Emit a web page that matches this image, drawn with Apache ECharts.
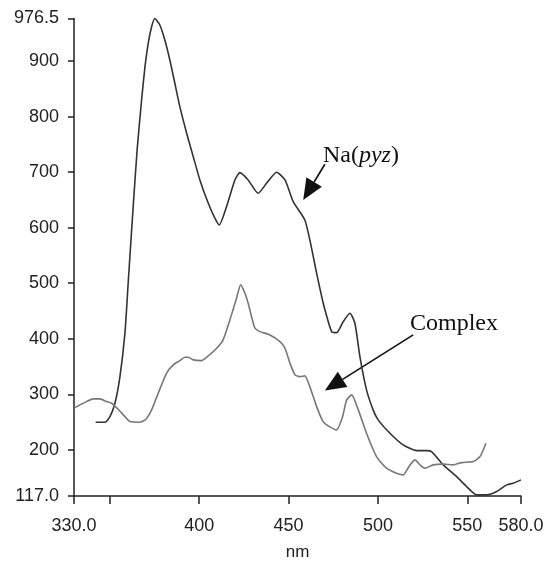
<!DOCTYPE html>
<html>
<head>
<meta charset="utf-8">
<script src="https://cdn.jsdelivr.net/npm/echarts@6/dist/echarts.min.js"></script>
<style>
    html, body { margin: 0; padding: 0; background: #fff; }
    #chart { width: 547px; height: 564px; }
</style>
</head>
<body>
<div id="chart"></div>
<script>
// Na(pyz) curve, wavelength (nm) and intensity
var naWave = [342.1, 347.3, 350.1, 352.9, 355.7, 358.5, 360.3, 363.1, 365.3, 367.8, 369.7, 371.5,
    373.4, 375.2, 378.0, 380.8, 383.6, 386.4, 389.2, 393.0, 396.7, 400.4, 405.1, 408.8, 411.2,
    415.3, 420.0, 422.8, 427.4, 433.0, 437.7, 443.3, 448.0, 452.6, 459.1, 461.9, 465.7, 469.4,
    474.1, 476.9, 480.6, 484.3, 487.1, 489.9, 493.6, 497.3, 500.1, 506.7, 514.1, 521.6, 527.2,
    530.0, 536.5, 544.0, 549.6, 555.2, 560.8, 566.4, 572.0, 575.6, 580.0];
var naValue = [249.8, 249.8, 259.9, 284, 331.9, 410.5, 500.5, 637.8, 739.9, 829.8, 889.8, 931.9,
    961.7, 976.5, 964.8, 937.8, 901.8, 859.9, 817.8, 769.9, 727.8, 685.9, 643.9, 617, 604.9,
    637.8, 685.9, 699, 685.9, 661.9, 679.9, 699.7, 685.9, 646.8, 613.9, 577.9, 518, 464,
    412.9, 411.1, 430.9, 446, 428, 367.9, 308, 272, 254, 230, 209, 198.7, 198.7,
    196.9, 173, 151.9, 134, 119, 119, 125, 137, 140, 146];

// Complex curve
var cxWave = [330.0, 333.3, 337.0, 340.7, 344.5, 348.2, 351.0, 354.7, 358.5, 361.3, 366.9, 370.2,
    373.4, 377.1, 381.8, 385.5, 389.2, 392.0, 393.9, 396.7, 401.4, 405.1, 409.8, 413.4, 417.2,
    420.9, 423.2, 425.6, 427.4, 429.3, 431.2, 434.0, 439.6, 445.2, 448.0, 450.8, 453.6, 456.4,
    459.1, 461.9, 465.7, 469.4, 473.1, 476.8, 480.1, 482.5, 485.3, 489.0, 493.6, 499.2, 504.8,
    510.4, 514.1, 517.9, 520.7, 523.5, 526.3, 530.9, 536.5, 542.1, 546.8, 553.3, 557.1, 560.4];
var cxValue = [275, 281, 286.9, 291.8, 291.8, 286.9, 284, 273.2, 259.9, 250.9, 249.8, 255.2,
    272, 302, 338, 353, 360.7, 366.8, 366.8, 362, 360.7, 369.2, 383, 398, 434,
    473, 497, 482, 464, 439.9, 419, 412.9, 406.9, 394.9, 383, 356, 335, 331.9,
    333.2, 313.9, 277.9, 250.4, 241.4, 236, 258.5, 290, 299, 272, 230, 187.9, 167,
    158, 155, 173, 182, 173, 167, 173, 174.3, 173, 177.1, 179, 188, 212];

var xTicks = [330, 350, 400, 450, 500, 550, 580];
var xLabels = [330, 400, 450, 500, 550, 580];
var yTicks = [117, 200, 300, 400, 500, 600, 700, 800, 900, 976.5];

// annotation arrows: [tail, tip] in data units, and label centres
var naArrow = [[470.3, 714.1], [458.2, 649.9]];
var cxArrow = [[519.7, 407.0], [470.3, 306.7]];
var naText = [490.5, 729.1];
var cxText = [542.5, 426.7];

var zip = function (xs, ys) {
    var out = [];
    for (var i = 0; i < xs.length; i++) {
        out.push([xs[i], ys[i]]);
    }
    return out;
};

var axisColor = '#222';
var sans = 'Liberation Sans, Arial, sans-serif';
var serif = 'Liberation Serif, Times New Roman, serif';

var chart = echarts.init(document.getElementById('chart'), null, { renderer: 'canvas' });

var option = {
    animation: false,
    grid: {
        left: 74,
        right: 26,
        top: 18.5,
        bottom: 68,
        containLabel: false,
        outerBoundsMode: 'none'
    },
    xAxis: {
        type: 'value',
        min: 330,
        max: 580,
        name: 'nm',
        nameLocation: 'middle',
        nameGap: 48,
        nameTextStyle: { color: '#222', fontSize: 17, fontFamily: sans },
        axisLine: { onZero: false, lineStyle: { color: axisColor, width: 1.5 } },
        axisTick: { show: true, length: 8, customValues: xTicks, lineStyle: { color: axisColor, width: 1.5 } },
        axisLabel: {
            customValues: xLabels,
            margin: 21,
            color: '#222',
            fontSize: 18,
            fontFamily: sans,
            formatter: function (v) {
                return (v === 330 || v === 580) ? v.toFixed(1) : String(v);
            }
        },
        splitLine: { show: false }
    },
    yAxis: {
        type: 'value',
        min: 117,
        max: 976.5,
        axisLine: { show: true, lineStyle: { color: axisColor, width: 1.5 } },
        axisTick: { show: true, length: 6, customValues: yTicks, lineStyle: { color: axisColor, width: 1.5 } },
        axisLabel: {
            customValues: yTicks,
            margin: 15,
            color: '#222',
            fontSize: 18,
            fontFamily: sans,
            formatter: function (v) {
                return (v === 117 || v === 976.5) ? v.toFixed(1) : String(v);
            }
        },
        splitLine: { show: false }
    },
    series: [{
        name: 'Na(pyz)',
        type: 'line',
        data: zip(naWave, naValue),
        showSymbol: false,
        smooth: 0.2,
        lineStyle: { color: '#333', width: 1.6 }
    }, {
        name: 'Complex',
        type: 'line',
        data: zip(cxWave, cxValue),
        showSymbol: false,
        smooth: 0.2,
        lineStyle: { color: '#777', width: 1.6 }
    }]
};

chart.setOption(option);

var px = function (p) {
    return chart.convertToPixel({ gridIndex: 0 }, p);
};

// line plus filled triangle head, built from the converted data points
var arrow = function (pair) {
    var a = px(pair[0]);
    var b = px(pair[1]);
    var dx = b[0] - a[0], dy = b[1] - a[1];
    var len = Math.sqrt(dx * dx + dy * dy);
    var ux = dx / len, uy = dy / len;
    var headLen = 21, halfW = 9;
    var bx = b[0] - ux * headLen, by = b[1] - uy * headLen;
    return [{
        type: 'line',
        shape: { x1: a[0], y1: a[1], x2: bx, y2: by },
        style: { stroke: '#111', lineWidth: 1.6 }
    }, {
        type: 'polygon',
        shape: {
            points: [
                [b[0], b[1]],
                [bx - uy * halfW, by + ux * halfW],
                [bx + uy * halfW, by - ux * halfW]
            ]
        },
        style: { fill: '#111' }
    }];
};

var naPos = px(naText);
var cxPos = px(cxText);

chart.setOption({
    graphic: arrow(naArrow).concat(arrow(cxArrow)).concat([{
        type: 'text',
        x: naPos[0],
        y: naPos[1],
        style: {
            text: 'Na({i|pyz})',
            align: 'center',
            verticalAlign: 'middle',
            fill: '#111',
            font: '24px ' + serif,
            rich: {
                i: { fontStyle: 'italic', fontSize: 24, fontFamily: serif, fill: '#111' }
            }
        }
    }, {
        type: 'text',
        x: cxPos[0],
        y: cxPos[1],
        style: {
            text: 'Complex',
            align: 'center',
            verticalAlign: 'middle',
            fill: '#111',
            font: '24px ' + serif
        }
    }])
});
</script>
</body>
</html>
